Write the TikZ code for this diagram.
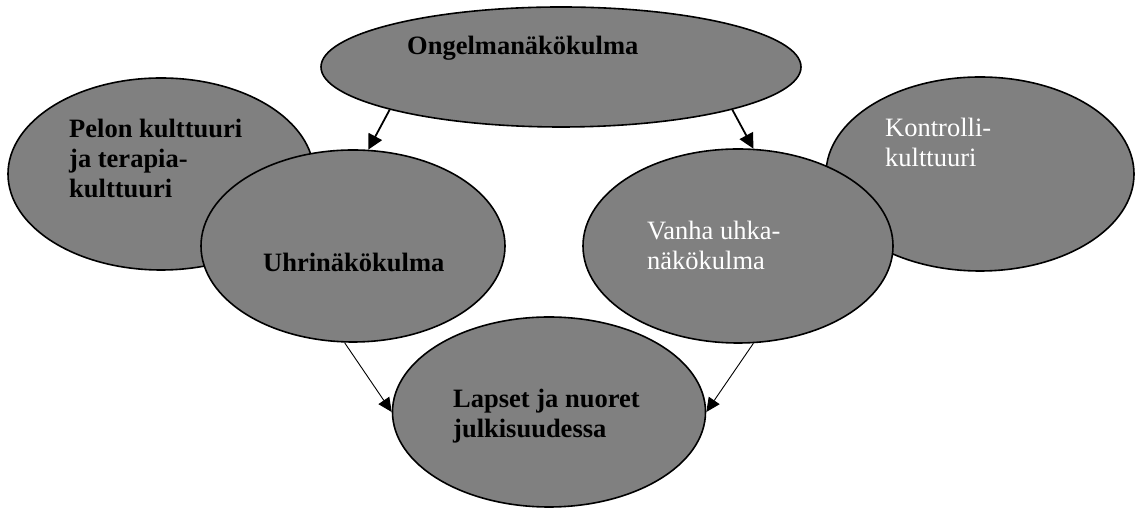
\documentclass[tikz,border=0pt]{standalone}
\usepackage{fontspec}
\setmainfont{Liberation Serif}
\usepackage{tikz}
\usetikzlibrary{shapes, arrows.meta, positioning}

\begin{document}
\begin{tikzpicture}[x=1pt, y=1pt,
    blob/.style={draw, ellipse, fill=gray, line width=1.6pt, inner sep=0pt},
    txt/.style={anchor=base west, align=left, inner sep=0pt, font=\fontsize{26.5}{30}\selectfont},
    bigarrow/.style={line width=1.8pt, -{Triangle[length=15pt, width=15pt]}},
    thinarrow/.style={line width=0.9pt, -{Triangle[length=14pt, width=13pt]}}]
            \useasboundingbox (0,0) rectangle (1135,510);
            \node[blob, minimum width=306pt, minimum height=192pt] (pelon) at (161,336) {};
            \node[txt] (pelontxt) at (69,312) {\textbf{Pelon kulttuuri}\\\textbf{ja terapia-}\\\textbf{kulttuuri}};
            \node[blob, minimum width=308pt, minimum height=194pt] (kontrolli) at (980,336) {};
            \node[txt, text=white] (kontrollitxt) at (885,343) {Kontrolli-\\kulttuuri};
            \node[blob, minimum width=304pt, minimum height=192pt] (uhri) at (353,264) {};
            \node[txt] (uhritxt) at (263,238) {\textbf{Uhrinäkökulma}};
            \node[blob, minimum width=310pt, minimum height=194pt] (vanha) at (738,264) {};
            \node[txt, text=white] (vanhatxt) at (647,240) {Vanha uhka-\\näkökulma};
            \node[blob, minimum width=313pt, minimum height=190pt] (lapset) at (549,98) {};
            \node[txt] (lapsettxt) at (453,72) {\textbf{Lapset ja nuoret}\\\textbf{julkisuudessa}};
            \node[blob, minimum width=480pt, minimum height=120pt] (ong) at (561,443) {};
            \node[txt] (ongtxt) at (407,455) {\textbf{Ongelmanäkökulma}};

            \draw[bigarrow] (ong.194) -- (uhri.81);
            \draw[bigarrow] (ong.346) -- (vanha.81);
            \draw[thinarrow] (uhri.265) -- (lapset.west);
            \draw[thinarrow] (vanha.279) -- (lapset.east);
        \end{tikzpicture}
\end{document}
